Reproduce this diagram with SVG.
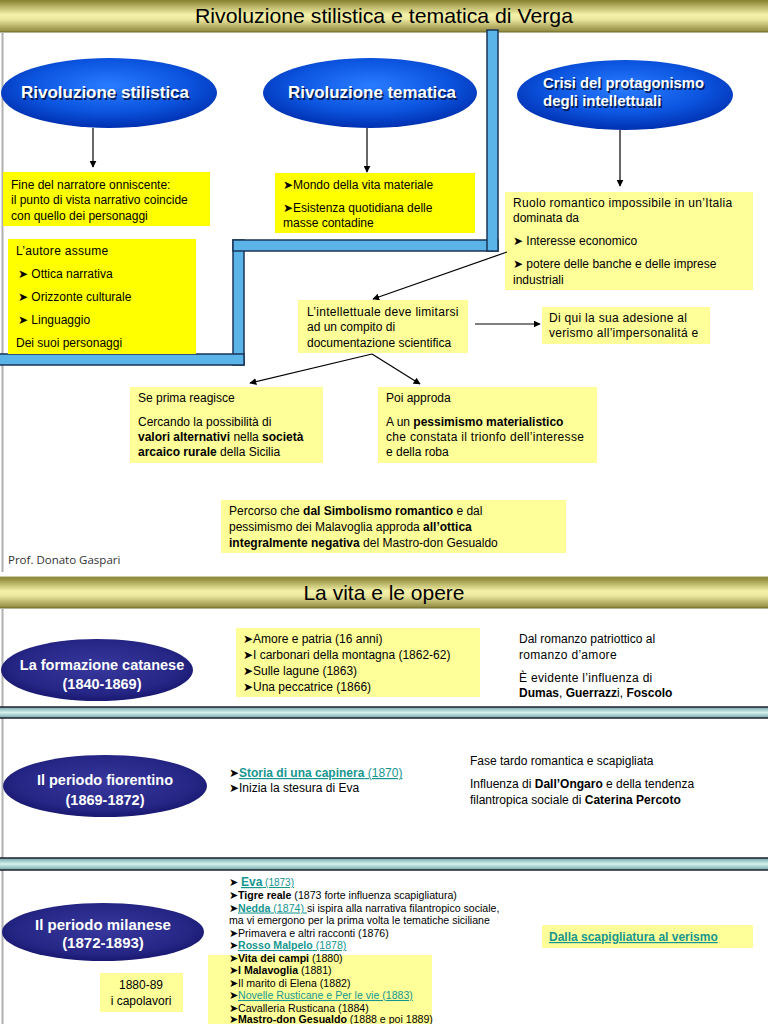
<svg xmlns="http://www.w3.org/2000/svg" width="768" height="1024" viewBox="0 0 768 1024">
<defs>
<linearGradient id="hdr" x1="0" y1="0" x2="0" y2="1">
<stop offset="0" stop-color="#85802e"/>
<stop offset="0.45" stop-color="#f4f1a8"/>
<stop offset="0.6" stop-color="#ece8a0"/>
<stop offset="1" stop-color="#8c873a"/>
</linearGradient>
<linearGradient id="sep" x1="0" y1="0" x2="0" y2="1">
<stop offset="0" stop-color="#6fa6a6"/>
<stop offset="0.5" stop-color="#d6f0ee"/>
<stop offset="1" stop-color="#6fa6a6"/>
</linearGradient>
<radialGradient id="blue" cx="0.5" cy="0.4" r="0.6">
<stop offset="0" stop-color="#2a7cff"/>
<stop offset="0.6" stop-color="#0c55e0"/>
<stop offset="1" stop-color="#0030b0"/>
</radialGradient>
<radialGradient id="navy" cx="0.5" cy="0.45" r="0.6">
<stop offset="0" stop-color="#38389e"/>
<stop offset="0.7" stop-color="#262686"/>
<stop offset="1" stop-color="#14146a"/>
</radialGradient>
<marker id="ah" viewBox="0 0 10 10" refX="9" refY="5" markerWidth="7" markerHeight="7" orient="auto" markerUnits="userSpaceOnUse">
<path d="M0,0 L10,5 L0,10 z" fill="#000"/>
</marker>
<style>
text{font-family:"Liberation Sans",Arial,sans-serif;fill:#000}
.t{font-size:12px}
.s{font-size:10.6px}
.b{font-weight:bold}
.ls{letter-spacing:0.3px}
.el{font-size:16.5px;font-weight:bold;fill:#fff}
.sh{font-size:16.5px;font-weight:bold;fill:#001a55}
.en{font-size:14.5px;font-weight:bold;fill:#fff}
.lk{fill:#16968f;text-decoration:underline}
.by{fill:#ffff00}
.py{fill:#ffff99}
.pipe{fill:#5ab4e8;stroke:#1b3558;stroke-width:1.5}
.bar{fill:url(#sep);stroke:#223;stroke-width:1.5}
.hd{fill:url(#hdr)}
.con{stroke:#000;stroke-width:1.2;fill:none;marker-end:url(#ah)}
.title{font-size:21px}
</style>
</defs>
<rect width="768" height="1024" fill="#fff"/>

<!-- headers -->
<g id="header1">
<rect class="hd" x="0" y="0" width="768" height="32"/>
<line x1="0" y1="32" x2="768" y2="32" stroke="#6e6a30" stroke-width="1"/>
<text class="title" x="384" y="23" text-anchor="middle" textLength="378" lengthAdjust="spacingAndGlyphs">Rivoluzione stilistica e tematica di Verga</text>
</g>
<line x1="2.5" y1="32" x2="2.5" y2="572" stroke="#b0b0b0" stroke-width="2"/>

<!-- pipe -->
<g id="pipe">
<rect class="pipe" x="233" y="240" width="11" height="125"/>
<rect class="pipe" x="-2" y="354" width="246" height="11"/>
<rect class="pipe" x="233" y="240" width="265" height="11"/>
<rect class="pipe" x="487" y="30" width="11" height="221"/>
</g>

<!-- ellipses top -->
<g id="ell-stilistica">
<ellipse cx="109" cy="93" rx="108" ry="35" fill="url(#blue)"/>
<text class="sh" x="106.5" y="99.5" text-anchor="middle" textLength="168" lengthAdjust="spacingAndGlyphs">Rivoluzione stilistica</text>
<text class="el" x="105" y="98" text-anchor="middle" textLength="168" lengthAdjust="spacingAndGlyphs">Rivoluzione stilistica</text>
</g>
<g id="ell-tematica">
<ellipse cx="370" cy="93" rx="107" ry="35" fill="url(#blue)"/>
<text class="sh" x="373.5" y="99.5" text-anchor="middle" textLength="168" lengthAdjust="spacingAndGlyphs">Rivoluzione tematica</text>
<text class="el" x="372" y="98" text-anchor="middle" textLength="168" lengthAdjust="spacingAndGlyphs">Rivoluzione tematica</text>
</g>
<g id="ell-crisi">
<ellipse cx="625" cy="95" rx="108" ry="35" fill="url(#blue)"/>
<text class="sh" x="544.5" y="89.5" style="font-size:15px" textLength="161" lengthAdjust="spacingAndGlyphs">Crisi del protagonismo</text>
<text class="el" x="543" y="88" style="font-size:15px" textLength="161" lengthAdjust="spacingAndGlyphs">Crisi del protagonismo</text>
<text class="sh" x="544.5" y="107.5" style="font-size:15px">degli intellettuali</text>
<text class="el" x="543" y="106" style="font-size:15px">degli intellettuali</text>
</g>

<!-- boxes top -->
<g id="box-narratore">
<rect class="by" x="3" y="172" width="207" height="54"/>
<text class="t" x="11" y="189">Fine del narratore onniscente:</text>
<text class="t" x="11" y="204">il punto di vista narrativo coincide</text>
<text class="t" x="11" y="220">con quello dei personaggi</text>
</g>
<g id="box-autore">
<rect class="by" x="8" y="239" width="188" height="115"/>
<text class="t ls" x="16" y="255">L’autore assume</text>
<text class="t" x="18" y="278">➤ Ottica narrativa</text>
<text class="t" x="18" y="301">➤ Orizzonte culturale</text>
<text class="t" x="18" y="324">➤ Linguaggio</text>
<text class="t" x="16" y="347">Dei suoi personaggi</text>
</g>
<g id="box-mondo">
<rect class="by" x="275" y="173" width="200" height="60"/>
<text class="t" x="283" y="189">➤Mondo della vita materiale</text>
<text class="t" x="283" y="212">➤Esistenza quotidiana delle</text>
<text class="t" x="283" y="227">masse contadine</text>
</g>
<g id="box-ruolo">
<rect class="py" x="505" y="192" width="248" height="98"/>
<text class="t ls" x="513" y="207">Ruolo romantico impossibile in un’Italia</text>
<text class="t" x="513" y="222">dominata da</text>
<text class="t" x="513" y="245">➤ Interesse economico</text>
<text class="t" x="513" y="268">➤ potere delle banche e delle imprese</text>
<text class="t" x="513" y="284">industriali</text>
</g>
<g id="box-intellettuale">
<rect class="py" x="298" y="300" width="170" height="53"/>
<text class="t ls" x="307" y="316">L’intellettuale deve limitarsi</text>
<text class="t" x="307" y="331">ad un compito di</text>
<text class="t" x="307" y="347">documentazione scientifica</text>
</g>
<g id="box-adesione">
<rect class="py" x="542" y="307" width="168" height="37"/>
<text class="t ls" x="549" y="322">Di qui la sua adesione al</text>
<text class="t ls" x="549" y="337">verismo all’impersonalitá e</text>
</g>
<g id="box-reagisce">
<rect class="py" x="130" y="387" width="193" height="76"/>
<text class="t" x="138" y="402">Se prima reagisce</text>
<text class="t" x="138" y="426">Cercando la possibilità di</text>
<text class="t" x="138" y="441"><tspan class="b">valori alternativi</tspan> nella <tspan class="b">società</tspan></text>
<text class="t" x="138" y="456"><tspan class="b">arcaico rurale</tspan> della Sicilia</text>
</g>
<g id="box-approda">
<rect class="py" x="378" y="387" width="219" height="76"/>
<text class="t" x="386" y="402">Poi approda</text>
<text class="t" x="386" y="426">A un <tspan class="b">pessimismo materialistico</tspan></text>
<text class="t ls" x="386" y="441">che constata il trionfo dell’interesse</text>
<text class="t" x="386" y="456">e della roba</text>
</g>
<g id="box-percorso">
<rect class="py" x="221" y="500" width="345" height="53"/>
<text class="t" x="229" y="515">Percorso che <tspan class="b">dal Simbolismo romantico</tspan> e dal</text>
<text class="t" x="229" y="531">pessimismo dei Malavoglia approda <tspan class="b">all’ottica</tspan></text>
<text class="t" x="229" y="547"><tspan class="b">integralmente negativa</tspan> del Mastro-don Gesualdo</text>
</g>
<text x="8" y="564" style="font-size:11.5px;fill:#333;font-family:'Open Sans','Liberation Sans',sans-serif">Prof. Donato Gaspari</text>

<!-- connectors -->
<g id="connectors">
<line class="con" x1="93" y1="128" x2="93" y2="167"/>
<line class="con" x1="367" y1="128" x2="367" y2="172"/>
<line class="con" x1="620" y1="130" x2="620" y2="186"/>
<line class="con" x1="507" y1="252" x2="373" y2="299"/>
<line class="con" x1="475" y1="324" x2="540" y2="324"/>
<line class="con" x1="372" y1="354" x2="250" y2="383"/>
<line class="con" x1="372" y1="354" x2="420" y2="384"/>
</g>

<!-- section 2 -->
<g id="header2">
<rect class="hd" x="0" y="577" width="768" height="31"/>
<line x1="0" y1="577" x2="768" y2="577" stroke="#9a9650" stroke-width="1"/>
<line x1="0" y1="608" x2="768" y2="608" stroke="#6e6a30" stroke-width="1"/>
<text class="title" x="384" y="600" text-anchor="middle">La vita e le opere</text>
</g>
<line x1="2.5" y1="608" x2="2.5" y2="1024" stroke="#b0b0b0" stroke-width="2"/>

<g id="ell-catanese">
<ellipse cx="97" cy="670" rx="96" ry="31" fill="url(#navy)"/>
<text class="en" x="102" y="670" text-anchor="middle">La formazione catanese</text>
<text class="en" x="102" y="689" text-anchor="middle">(1840-1869)</text>
</g>
<g id="box-catanese">
<rect class="py" x="236" y="628" width="244" height="69"/>
<text class="t" x="243" y="643">➤Amore e patria (16 anni)</text>
<text class="t" x="243" y="659">➤I carbonari della montagna (1862-62)</text>
<text class="t" x="243" y="675">➤Sulle lagune (1863)</text>
<text class="t" x="243" y="691">➤Una peccatrice (1866)</text>
</g>
<g id="txt-catanese">
<text class="t" x="519" y="643">Dal romanzo patriottico al</text>
<text class="t ls" x="519" y="659">romanzo d’amore</text>
<text class="t ls" x="519" y="682">È evidente l’influenza di</text>
<text class="t" x="519" y="697"><tspan class="b">Dumas</tspan>, <tspan class="b">Guerrazz</tspan>i, <tspan class="b">Foscolo</tspan></text>
</g>
<rect class="bar" x="-2" y="707" width="772" height="11"/>

<g id="ell-fiorentino">
<ellipse cx="105" cy="786" rx="102" ry="31" fill="url(#navy)"/>
<text class="en" x="105" y="785" text-anchor="middle">Il periodo fiorentino</text>
<text class="en" x="105" y="805" text-anchor="middle">(1869-1872)</text>
</g>
<g id="txt-fiorentino">
<text class="t" x="229" y="777">➤<tspan class="b lk">Storia di una capinera</tspan><tspan class="lk"> (1870)</tspan></text>
<text class="t" x="229" y="792">➤Inizia la stesura di Eva</text>
<text class="t" x="470" y="765">Fase tardo romantica e scapigliata</text>
<text class="t" x="470" y="788">Influenza di <tspan class="b">Dall’Ongaro</tspan> e della tendenza</text>
<text class="t" x="470" y="804">filantropica sociale di <tspan class="b">Caterina Percoto</tspan></text>
</g>
<rect class="bar" x="-2" y="858" width="772" height="12"/>

<g id="ell-milanese">
<ellipse cx="103" cy="932" rx="101" ry="29" fill="url(#navy)"/>
<text class="en" x="103" y="930" text-anchor="middle" style="font-size:15px">Il periodo milanese</text>
<text class="en" x="103" y="948" text-anchor="middle" style="font-size:15px">(1872-1893)</text>
</g>
<g id="box-capolavori">
<rect class="py" x="100" y="973" width="83" height="39"/>
<text class="t" x="141" y="989" text-anchor="middle">1880-89</text>
<text class="t" x="141" y="1005" text-anchor="middle">i capolavori</text>
</g>
<g id="list-milanese">
<rect class="py" x="208" y="955" width="224" height="69"/>
<text class="s" x="229" y="886">➤ <tspan class="b lk" style="font-size:12px">Eva</tspan><tspan class="lk" style="font-size:10px"> (1873)</tspan></text>
<text class="s" x="229" y="899">➤<tspan class="b">Tigre reale</tspan> (1873 forte influenza scapigliatura)</text>
<text class="s" x="229" y="911.5">➤<tspan class="b lk">Nedda</tspan><tspan class="lk"> (1874) </tspan>si ispira alla narrativa filantropico sociale,</text>
<text class="s" x="229" y="924">ma vi emergono per la prima volta le tematiche siciliane</text>
<text class="s" x="229" y="936.5">➤Primavera e altri racconti (1876)</text>
<text class="s" x="229" y="949">➤<tspan class="b lk">Rosso Malpelo</tspan><tspan class="lk"> (1878)</tspan></text>
<text class="s" x="229" y="961.5">➤<tspan class="b">Vita dei campi</tspan> (1880)</text>
<text class="s" x="229" y="974">➤<tspan class="b">I Malavoglia</tspan> (1881)</text>
<text class="s" x="229" y="986.5">➤Il marito di Elena (1882)</text>
<text class="s" x="229" y="999">➤<tspan class="lk">Novelle Rusticane e Per le vie (1883)</tspan></text>
<text class="s" x="229" y="1011.5">➤Cavalleria Rusticana (1884)</text>
<text class="s" x="229" y="1023">➤<tspan class="b">Mastro-don Gesualdo</tspan> (1888 e poi 1889)</text>
</g>
<g id="box-verismo">
<rect class="py" x="542" y="925" width="211" height="23"/>
<text class="t b lk" x="549" y="941">Dalla scapigliatura al verismo</text>
</g>
</svg>
